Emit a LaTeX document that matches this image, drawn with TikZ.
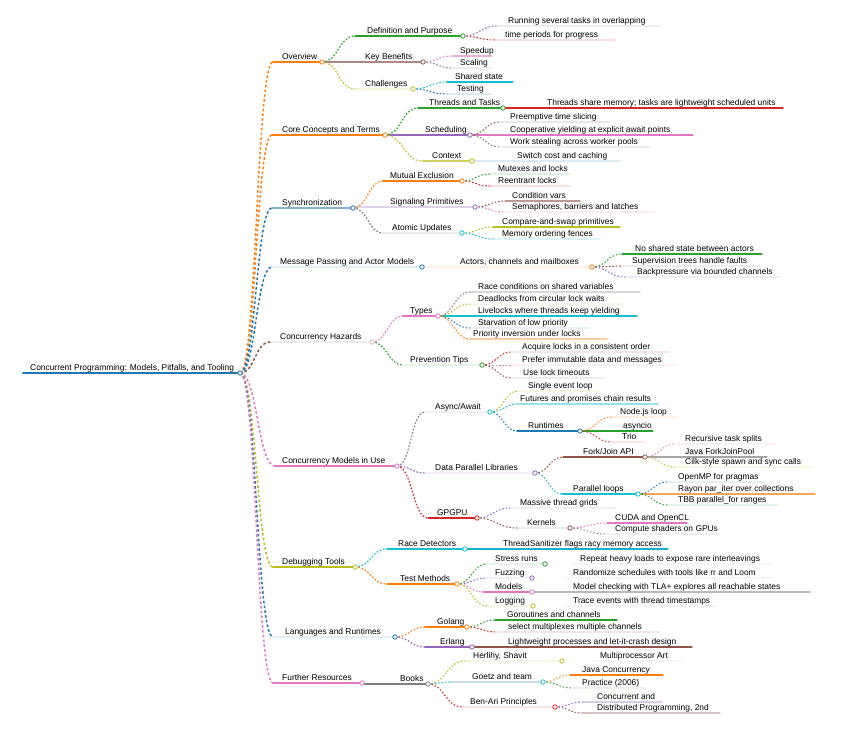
\documentclass[tikz,border=0pt]{standalone}
\usepackage{fontspec}
\setmainfont{Liberation Sans}
\usetikzlibrary{calc}
\definecolor{cB}{HTML}{1F77B4}
\definecolor{cO}{HTML}{FF7F0E}
\definecolor{cG}{HTML}{2CA02C}
\definecolor{cR}{HTML}{D62728}
\definecolor{cP}{HTML}{9467BD}
\definecolor{cBr}{HTML}{8C564B}
\definecolor{cPk}{HTML}{E377C2}
\definecolor{cGy}{HTML}{7F7F7F}
\definecolor{cOl}{HTML}{BCBD22}
\definecolor{cC}{HTML}{17BECF}
\tikzset{
  txt/.style={anchor=base west,inner sep=0pt,font=\fontsize{8.4}{9.5}\selectfont,text=black},
  linkdash/.style={dash pattern=on 1.6pt off 1.8pt},
  linkdashA/.style={dash pattern=on 2.6pt off 2.2pt},
}
% name, xL, xR, y, textx, colour, width, text
\newcommand\mm[8]{%
  \coordinate (#1-l) at (#2,#4);
  \coordinate (#1-r) at (#3,#4);
  \draw[#6,line width=#7,line cap=round] (#1-l) -- (#1-r);
  \node[txt] (#1) at (#5,#4-2.6) {#8};
}
\newcommand\cir[2]{\draw[#2,line width=0.8pt,fill=white] (#1-r) circle (2.2pt);}
\newcommand\lnk[4]{\draw[#3,line width=#4,linkdash] let \p1=(#1),\p2=(#2) in (\p1) .. controls ({(\x1+\x2)/2},\y1) and ({(\x1+\x2)/2},\y2) .. (\p2);}
\newcommand\lnkA[3]{\draw[#3,line width=1.5pt,linkdashA] let \p1=(#1),\p2=(#2) in (\p1) .. controls ({(\x1+\x2)/2},\y1) and ({(\x1+\x2)/2},\y2) .. (\p2);}
\begin{document}
\begin{tikzpicture}[x=1pt,y=-1pt]
\useasboundingbox[fill=white] (0,0) rectangle (848,736);
% root
\mm{root}{23}{240}{373}{30}{cB}{2pt}{Concurrent Programming: Models, Pitfalls, and Tooling}
% level 1
\mm{n1}{273}{322}{62}{282}{cO}{1.6pt}{Overview}
\mm{n2}{272}{385}{135}{282}{cO}{1.6pt}{Core Concepts and Terms}
\mm{n3}{272}{353}{208}{282}{cB!55}{1.6pt}{Synchronization}
\mm{n4}{272}{422}{267}{280}{cB!12}{1.6pt}{Message Passing and Actor Models}
\mm{n5}{270}{372}{342}{280}{cBr!12}{1.6pt}{Concurrency Hazards}
\mm{n6}{275}{397}{466}{282}{cPk}{1.6pt}{Concurrency Models in Use}
\mm{n7}{273}{355}{567}{282}{cOl}{1.6pt}{Debugging Tools}
\mm{n8}{273}{395}{637}{285}{cB!12}{1.6pt}{Languages and Runtimes}
\mm{n9}{273}{362}{683}{282}{cPk}{1.6pt}{Further Resources}
% branch 1
\mm{a1}{355}{463}{36}{367}{cG}{1.4pt}{Definition and Purpose}
\mm{a1a}{497}{660}{26}{508}{cP!15}{1.2pt}{Running several tasks in overlapping}
\mm{a1b}{495}{615}{40}{505}{cR!15}{1.2pt}{time periods for progress}
\mm{a2}{322}{423}{62}{365}{cBr!70}{1.4pt}{Key Benefits}
\mm{a2a}{452}{492}{56}{460}{cPk!60}{1.2pt}{Speedup}
\mm{a2b}{452}{492}{68}{460}{cGy!15}{1.2pt}{Scaling}
\mm{a3}{355}{413}{89}{365}{cOl!15}{1.4pt}{Challenges}
\mm{a3a}{447}{513}{82}{455}{cC}{1.2pt}{Shared state}
\mm{a3b}{447}{492}{94}{457}{cB!15}{1.2pt}{Testing}
% branch 2
\mm{b1}{418}{503}{108}{429}{cG}{1.4pt}{Threads and Tasks}
\mm{b1a}{503}{783}{108}{547}{cR}{1.2pt}{Threads share memory; tasks are lightweight scheduled units}
\mm{b2}{385}{470}{135}{425}{cP}{1.4pt}{Scheduling}
\mm{b2a}{500}{610}{122}{510}{cBr!15}{1.2pt}{Preemptive time slicing}
\mm{b2b}{470}{693}{135}{510}{cPk}{1.2pt}{Cooperative yielding at explicit await points}
\mm{b2c}{500}{650}{147}{510}{cGy!15}{1.2pt}{Work stealing across worker pools}
\mm{b3}{422}{472}{161}{432}{cOl!70}{1.4pt}{Context}
\mm{b3a}{472}{620}{161}{517}{cB!15}{1.2pt}{Switch cost and caching}
% branch 3
\mm{c1}{383}{462}{181}{390}{cO}{1.4pt}{Mutual Exclusion}
\mm{c1a}{490}{570}{174}{498}{cG!15}{1.2pt}{Mutexes and locks}
\mm{c1b}{490}{570}{186}{498}{cR!15}{1.2pt}{Reentrant locks}
\mm{c2}{353}{475}{207}{390}{cP!30}{1.4pt}{Signaling Primitives}
\mm{c2a}{505}{580}{201}{512}{cBr!60}{1.2pt}{Condition vars}
\mm{c2b}{505}{655}{212}{512}{cPk!15}{1.2pt}{Semaphores, barriers and latches}
\mm{c3}{383}{462}{233}{392}{cGy!15}{1.4pt}{Atomic Updates}
\mm{c3a}{493}{620}{227}{502}{cOl}{1.2pt}{Compare-and-swap primitives}
\mm{c3b}{493}{600}{239}{502}{cC!15}{1.2pt}{Memory ordering fences}
% branch 4
\mm{d1}{422}{592}{267}{460}{cO!12}{1.4pt}{Actors, channels and mailboxes}
\mm{d1a}{622}{762}{254}{635}{cG}{1.2pt}{No shared state between actors}
\mm{d1b}{622}{760}{266}{632}{cBr!12}{1.2pt}{Supervision trees handle faults}
\mm{d1c}{625}{780}{277}{637}{cP!12}{1.2pt}{Backpressure via bounded channels}
% branch 5
\mm{e1}{403}{438}{316}{410}{cPk}{1.4pt}{Types}
\mm{e1a}{470}{640}{292}{478}{cGy!30}{1.2pt}{Race conditions on shared variables}
\mm{e1b}{470}{625}{304}{478}{cOl!12}{1.2pt}{Deadlocks from circular lock waits}
\mm{e1c}{438}{637}{316}{478}{cC}{1.2pt}{Livelocks where threads keep yielding}
\mm{e1d}{470}{590}{328}{478}{cB!12}{1.2pt}{Starvation of low priority}
\mm{e1e}{470}{607}{339}{473}{cO!40}{1.2pt}{Priority inversion under locks}
\mm{e2}{403}{482}{365}{410}{cG!12}{1.4pt}{Prevention Tips}
\mm{e2a}{512}{670}{352}{522}{cR!12}{1.2pt}{Acquire locks in a consistent order}
\mm{e2b}{512}{676}{365}{522}{cPk!12}{1.2pt}{Prefer immutable data and messages}
\mm{e2c}{512}{605}{378}{523}{cBr!12}{1.2pt}{Use lock timeouts}
% branch 6
\mm{f1}{425}{490}{412}{435}{cGy!12}{1.4pt}{Async/Await}
\mm{f1a}{518}{600}{391}{528}{cOl!12}{1.2pt}{Single event loop}
\mm{f1b}{518}{658}{404}{520}{cC!45}{1.2pt}{Futures and promises chain results}
\mm{f1c}{517}{580}{431}{528}{cB}{1.2pt}{Runtimes}
\mm{f1c1}{612}{676}{417}{620}{cO!12}{1.1pt}{Node.js loop}
\mm{f1c2}{580}{653}{431}{623}{cG}{1.1pt}{asyncio}
\mm{f1c3}{612}{645}{442}{622}{cR!12}{1.1pt}{Trio}
\mm{f2}{425}{535}{473}{435}{cP!12}{1.4pt}{Data Parallel Libraries}
\mm{f2a}{563}{645}{457}{583}{cBr}{1.2pt}{Fork/Join API}
\mm{f2a1}{675}{775}{444}{685}{cPk!12}{1.1pt}{Recursive task splits}
\mm{f2a2}{645}{767}{457}{685}{cGy!70}{1.1pt}{Java ForkJoinPool}
\mm{f2a3}{675}{812}{467}{685}{cOl!12}{1.1pt}{Cilk-style spawn and sync calls}
\mm{f2b}{562}{638}{494}{573}{cC}{1.2pt}{Parallel loops}
\mm{f2b1}{668}{765}{482}{678}{cB!12}{1.1pt}{OpenMP for pragmas}
\mm{f2b2}{638}{815}{494}{678}{cO!70}{1.1pt}{Rayon par\_iter over collections}
\mm{f2b3}{668}{778}{505}{678}{cG!12}{1.1pt}{TBB parallel\_for ranges}
\mm{f3}{428}{477}{518}{437}{cR}{1.4pt}{GPGPU}
\mm{f3a}{510}{615}{508}{520}{cP!12}{1.2pt}{Massive thread grids}
\mm{f3b}{517}{570}{528}{527}{cBr!12}{1.2pt}{Kernels}
\mm{f3b1}{607}{687}{523}{615}{cPk}{1.1pt}{CUDA and OpenCL}
\mm{f3b2}{605}{720}{534}{615}{cGy!12}{1.1pt}{Compute shaders on GPUs}
% branch 7
\mm{g1}{387}{465}{549}{398}{cC}{1.4pt}{Race Detectors}
\mm{g1a}{465}{668}{549}{503}{cC!80!cB}{1.2pt}{ThreadSanitizer flags racy memory access}
\mm{g2}{387}{457}{584}{400}{cO}{1.4pt}{Test Methods}
\mm{g2a}{487}{545}{564}{495}{cG!12}{1.2pt}{Stress runs}
\mm{g2a1}{572}{772}{564}{580}{cGy!8}{1.1pt}{Repeat heavy loads to expose rare interleavings}
\mm{g2b}{487}{532}{578}{495}{cP!12}{1.2pt}{Fuzzing}
\mm{g2b1}{565}{772}{578}{573}{cGy!8}{1.1pt}{Randomize schedules with tools like rr and Loom}
\mm{g2c}{483}{532}{592}{495}{cPk}{1.2pt}{Models}
\mm{g2c1}{532}{810}{592}{573}{cGy!55}{1.1pt}{Model checking with TLA+ explores all reachable states}
\mm{g2d}{487}{533}{606}{495}{cOl!12}{1.2pt}{Logging}
\mm{g2d1}{565}{717}{606}{573}{cGy!8}{1.1pt}{Trace events with thread timestamps}
% branch 8
\mm{h1}{425}{467}{627}{437}{cO}{1.4pt}{Golang}
\mm{h1a}{495}{617}{620}{507}{cG}{1.2pt}{Goroutines and channels}
\mm{h1b}{497}{660}{632}{508}{cR!12}{1.2pt}{select multiplexes multiple channels}
\mm{h2}{425}{472}{647}{440}{cP}{1.4pt}{Erlang}
\mm{h2a}{472}{692}{647}{508}{cBr}{1.2pt}{Lightweight processes and let-it-crash design}
% branch 9
\mm{i1}{362}{428}{684}{400}{cGy}{1.4pt}{Books}
\mm{i1a}{465}{562}{661}{473}{cOl!12}{1.2pt}{Herlihy, Shavit}
\mm{i1a1}{592}{682}{661}{600}{cGy!8}{1.1pt}{Multiprocessor Art}
\mm{i1b}{450}{543}{682}{472}{cB!25}{1.2pt}{Goetz and team}
\mm{i1b1}{570}{663}{675}{582}{cO}{1.1pt}{Java Concurrency}
\mm{i1b2}{572}{645}{688}{582}{cG!12}{1.1pt}{Practice (2006)}
\mm{i1c}{462}{555}{707}{470}{cR!12}{1.2pt}{Ben-Ari Principles}
\mm{i1c1}{582}{662}{702}{597}{cP!35}{1.1pt}{Concurrent and}
\mm{i1c2}{582}{720}{713}{597}{cBr!35}{1.1pt}{Distributed Programming, 2nd}
% links level 1
\lnkA{root-r}{n1-l}{cO}
\lnkA{root-r}{n2-l}{cO}
\lnkA{root-r}{n3-l}{cB}
\lnkA{root-r}{n4-l}{cB}
\lnkA{root-r}{n5-l}{cBr}
\lnkA{root-r}{n6-l}{cPk}
\lnkA{root-r}{n7-l}{cOl}
\lnkA{root-r}{n8-l}{cB}
\lnkA{root-r}{n9-l}{cPk}
% links deeper
\lnk{n1-r}{a1-l}{cG}{1.2pt}
\lnk{n1-r}{a3-l}{cOl}{1.2pt}
\lnk{a1-r}{a1a-l}{cP}{1pt}
\lnk{a1-r}{a1b-l}{cR}{1pt}
\lnk{a2-r}{a2a-l}{cPk}{1pt}
\lnk{a2-r}{a2b-l}{cGy}{1pt}
\lnk{a3-r}{a3a-l}{cC}{1pt}
\lnk{a3-r}{a3b-l}{cB}{1pt}
\lnk{n2-r}{b1-l}{cG}{1.2pt}
\lnk{n2-r}{b3-l}{cOl}{1.2pt}
\lnk{b2-r}{b2a-l}{cBr}{1pt}
\lnk{b2-r}{b2c-l}{cGy}{1pt}
\lnk{n3-r}{c1-l}{cO}{1.2pt}
\lnk{n3-r}{c3-l}{cGy}{1.2pt}
\lnk{c1-r}{c1a-l}{cG}{1pt}
\lnk{c1-r}{c1b-l}{cR}{1pt}
\lnk{c2-r}{c2a-l}{cBr}{1pt}
\lnk{c2-r}{c2b-l}{cPk}{1pt}
\lnk{c3-r}{c3a-l}{cOl}{1pt}
\lnk{c3-r}{c3b-l}{cC}{1pt}
\lnk{d1-r}{d1a-l}{cG}{1pt}
\lnk{d1-r}{d1b-l}{cBr}{1pt}
\lnk{d1-r}{d1c-l}{cP}{1pt}
\lnk{n5-r}{e1-l}{cPk}{1.2pt}
\lnk{n5-r}{e2-l}{cG}{1.2pt}
\lnk{e1-r}{e1a-l}{cGy}{1pt}
\lnk{e1-r}{e1b-l}{cOl}{1pt}
\lnk{e1-r}{e1d-l}{cB}{1pt}
\lnk{e1-r}{e1e-l}{cO}{1pt}
\lnk{e2-r}{e2a-l}{cR}{1pt}
\lnk{e2-r}{e2b-l}{cPk}{1pt}
\lnk{e2-r}{e2c-l}{cBr}{1pt}
\lnk{n6-r}{f1-l}{cGy}{1.2pt}
\lnk{n6-r}{f2-l}{cP}{1.2pt}
\lnk{n6-r}{f3-l}{cR}{1.2pt}
\lnk{f1-r}{f1a-l}{cOl}{1pt}
\lnk{f1-r}{f1b-l}{cC}{1pt}
\lnk{f1-r}{f1c-l}{cB}{1pt}
\lnk{f1c-r}{f1c1-l}{cO}{0.9pt}
\lnk{f1c-r}{f1c3-l}{cR}{0.9pt}
\lnk{f2-r}{f2a-l}{cBr}{1pt}
\lnk{f2-r}{f2b-l}{cC}{1pt}
\lnk{f2a-r}{f2a1-l}{cPk}{0.9pt}
\lnk{f2a-r}{f2a3-l}{cOl}{0.9pt}
\lnk{f2b-r}{f2b1-l}{cB}{0.9pt}
\lnk{f2b-r}{f2b3-l}{cG}{0.9pt}
\lnk{f3-r}{f3a-l}{cP}{1pt}
\lnk{f3-r}{f3b-l}{cBr}{1pt}
\lnk{f3b-r}{f3b1-l}{cPk}{0.9pt}
\lnk{f3b-r}{f3b2-l}{cGy}{0.9pt}
\lnk{n7-r}{g1-l}{cC}{1.2pt}
\lnk{n7-r}{g2-l}{cO}{1.2pt}
\lnk{g2-r}{g2a-l}{cG}{1pt}
\lnk{g2-r}{g2b-l}{cP}{1pt}
\lnk{g2-r}{g2c-l}{cPk}{1pt}
\lnk{g2-r}{g2d-l}{cOl}{1pt}
\lnk{n8-r}{h1-l}{cO}{1.2pt}
\lnk{n8-r}{h2-l}{cP}{1.2pt}
\lnk{h1-r}{h1a-l}{cG}{1pt}
\lnk{h1-r}{h1b-l}{cR}{1pt}
\lnk{i1-r}{i1a-l}{cOl}{1pt}
\lnk{i1-r}{i1b-l}{cC}{1pt}
\lnk{i1-r}{i1c-l}{cR}{1pt}
\lnk{i1b-r}{i1b1-l}{cO}{0.9pt}
\lnk{i1b-r}{i1b2-l}{cG}{0.9pt}
\lnk{i1c-r}{i1c1-l}{cP}{0.9pt}
\lnk{i1c-r}{i1c2-l}{cBr}{0.9pt}
% circles
\cir{root}{cB}
\cir{n1}{cO}\cir{n2}{cO}\cir{n3}{cB}\cir{n4}{cB}\cir{n5}{cBr!40}
\cir{n6}{cPk}\cir{n7}{cOl}\cir{n8}{cB}\cir{n9}{cPk}
\cir{a1}{cG}\cir{a2}{cBr}\cir{a3}{cOl}
\cir{b1}{cG}\cir{b2}{cP}\cir{b3}{cOl}
\cir{c1}{cO}\cir{c2}{cP}\cir{c3}{cC}
\cir{d1}{cO}
\cir{e1}{cPk}\cir{e2}{cG}
\cir{f1}{cC}\cir{f1c}{cB}\cir{f2}{cP}\cir{f2a}{cBr}\cir{f2b}{cC}\cir{f3}{cR}\cir{f3b}{cBr}
\cir{g1}{cC}\cir{g2}{cO}\cir{g2a}{cG}\cir{g2b}{cP}\cir{g2c}{cPk}\cir{g2d}{cOl}
\cir{h1}{cO}\cir{h2}{cP}
\cir{i1}{cGy}\cir{i1a}{cOl}\cir{i1b}{cC}\cir{i1c}{cR}
\end{tikzpicture}
\end{document}
